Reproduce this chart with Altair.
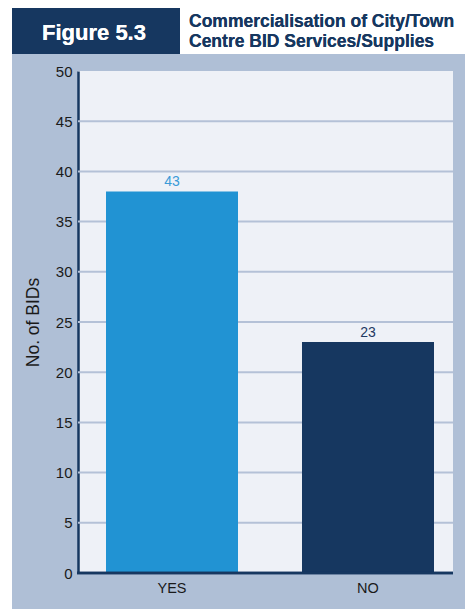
import altair as alt
import pandas as pd

categories = ["YES", "NO"]
bar_values = [38, 23]
bar_labels = ["43", "23"]
bar_colors = ["#2193d3", "#163760"]
label_colors = ["#3a9bd8", "#1f3a62"]
y_ticks = [0, 5, 10, 15, 20, 25, 30, 35, 40, 45, 50]
grid_ticks = [5, 10, 15, 20, 25, 30, 35, 40, 45]
figure_label = "Figure 5.3"
title_lines = ["Commercialisation of City/Town", "Centre BID Services/Supplies"]
y_title = "No. of BIDs"

df = pd.DataFrame({
    "cat": categories,
    "val": bar_values,
    "lab": bar_labels,
    "col": bar_colors,
    "lcol": label_colors,
})
grid_df = pd.DataFrame({"g": grid_ticks})

W, H = 375, 502
PL, PT = 78, 71
NAVY = "#163760"
PANEL = "#afbfd6"
FONT = "Liberation Sans"

xscale = alt.Scale(domain=categories, range=[28, 356], paddingInner=0.3265, paddingOuter=0)
yscale = alt.Scale(domain=[0, 50], nice=False)

base = alt.Chart(df)

grid = alt.Chart(grid_df).mark_rule(color="#b4c1d7", strokeWidth=2).encode(
    y=alt.Y("g:Q", scale=yscale),
    x=alt.value(0), x2=alt.value(W),
)

bars = base.mark_bar().encode(
    x=alt.X("cat:N", scale=xscale, sort=categories,
            axis=alt.Axis(title=None, labelAngle=0, labelFont=FONT, labelFontSize=14.5,
                          labelColor="#1a1a1a", labelPadding=8, ticks=False, domain=False,
                          grid=False)),
    y=alt.Y("val:Q", scale=yscale,
            axis=alt.Axis(values=y_ticks, title=y_title, titleFont=FONT, titleFontSize=17.5,
                          titleFontWeight="normal", titleColor="#1a1a1a",
                          titleAngle=270, titleX=-45, titleY=H / 2, titleAlign="center",
                          titleBaseline="middle",
                          labelFont=FONT, labelFontSize=15, labelColor="#1a1a1a",
                          labelPadding=6, ticks=False, domainColor=NAVY, domainWidth=2.5,
                          grid=False)),
    color=alt.Color("col:N", scale=None),
)

texts = base.mark_text(baseline="alphabetic", dy=-5, font=FONT, fontSize=14).encode(
    x=alt.X("cat:N", scale=xscale, sort=categories),
    y=alt.Y("val:Q", scale=yscale),
    text="lab:N",
    color=alt.Color("lcol:N", scale=None),
)

xline = base.mark_rule(color=NAVY, strokeWidth=2.5).encode(
    x=alt.value(-1), x2=alt.value(W), y=alt.value(H)
)

white_top = base.mark_rect(color="white").encode(
    x=alt.value(-PL), x2=alt.value(465 - PL), y=alt.value(-PT), y2=alt.value(54 - PT)
)
white_left = base.mark_rect(color="white").encode(
    x=alt.value(-PL), x2=alt.value(12 - PL), y=alt.value(-PT), y2=alt.value(609 - PT)
)
navy_box = base.mark_rect(color=NAVY).encode(
    x=alt.value(12 - PL), x2=alt.value(180 - PL), y=alt.value(8 - PT), y2=alt.value(54 - PT)
)
fig_text = base.mark_text(font=FONT, fontSize=22, fontWeight="bold", color="white",
                          align="center", baseline="middle").encode(
    x=alt.value(94 - PL), y=alt.value(33 - PT), text=alt.value(figure_label)
)
title1 = base.mark_text(font=FONT, fontSize=17.5, fontWeight="bold", color=NAVY,
                        align="left", baseline="middle").encode(
    x=alt.value(189 - PL), y=alt.value(22 - PT), text=alt.value(title_lines[0])
)
title2 = base.mark_text(font=FONT, fontSize=17.5, fontWeight="bold", color=NAVY,
                        align="left", baseline="middle").encode(
    x=alt.value(189 - PL), y=alt.value(42 - PT), text=alt.value(title_lines[1])
)

chart = alt.layer(
    grid, bars, texts, xline, white_top, white_left, navy_box, fig_text, title1, title2
).properties(
    width=W, height=H,
    autosize=alt.AutoSizeParams(type="none"),
    padding={"left": PL, "top": PT, "right": 465 - PL - W, "bottom": 609 - PT - H},
    background=PANEL,
).configure_view(fill="#eef1f7", stroke=None)

chart.save("out.html", embed_options={"renderer": "svg", "actions": False})
